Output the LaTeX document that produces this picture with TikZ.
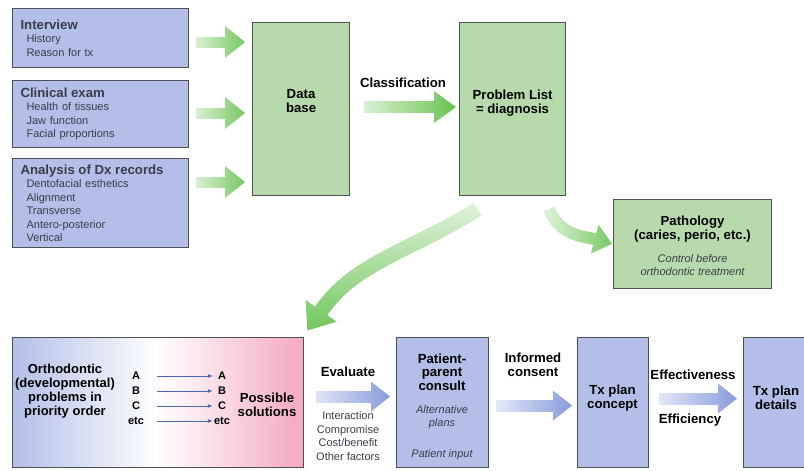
\documentclass[tikz,border=0pt]{standalone}
\usepackage{fontspec}
\setmainfont{Liberation Sans}
\usetikzlibrary{arrows.meta,positioning,fadings,calc}
\definecolor{BoxBlue}{HTML}{B3BFE9}
\definecolor{BoxGreen}{HTML}{B6DAAC}
\definecolor{Edge}{HTML}{505050}
\definecolor{ArrowGreen}{HTML}{5DBE44}
\definecolor{ArrowBlue}{HTML}{7890D6}
\definecolor{Pink}{HTML}{F4A8C2}
\definecolor{ItemText}{HTML}{3C3C48}
\definecolor{LineBlue}{HTML}{4A67AE}
\tikzfading[name=tailfade, left color=transparent!92, right color=transparent!0]
\tikzfading[name=tailfadedown, top color=transparent!92, bottom color=transparent!0]
\newcommand{\headfont}{\fontsize{13.2}{13.5}\selectfont\bfseries}
\newcommand{\itemfont}{\fontsize{11}{13.5}\selectfont}

\begin{document}
\begin{tikzpicture}[x=1pt,y=1pt,
  bluebox/.style={draw=Edge,fill=BoxBlue,line width=1.1pt,anchor=north west,inner sep=0pt},
  listbox/.style={bluebox,align=left,inner xsep=8pt,font=\itemfont,text=ItemText},
  greenbox/.style={draw=Edge,fill=BoxGreen,line width=1.1pt,anchor=north west,inner sep=0pt},
  bigtext/.style={font=\headfont,align=center},
  smalltext/.style={font=\itemfont,align=center,text=ItemText},
  lettertext/.style={font=\fontsize{11}{13}\selectfont\bfseries,inner sep=0pt},
  greenarrow/.style={draw=ArrowGreen,line width=11pt,-{Triangle[length=20pt,width=32pt,line width=0pt]},path fading=tailfade,fading transform={yscale=5}},
  bluearrow/.style={draw=ArrowBlue,line width=12pt,-{Triangle[length=19pt,width=30pt,line width=0pt]},path fading=tailfade,fading transform={yscale=5}},
  thinarrow/.style={draw=LineBlue,line width=0.9pt,-{Latex[length=5pt,width=4pt]}}
]
\useasboundingbox (0,0) rectangle (804,-471);
% records feeding the data base
\node[listbox,text width=160pt,minimum height=59pt] (iv) at (12,-8)
  {{\headfont Interview}\\\hspace*{6pt}History\\\hspace*{6pt}Reason for tx};
\node[listbox,text width=160pt,minimum height=67pt] (ce) at (12,-80)
  {{\headfont Clinical exam}\\\hspace*{6pt}Health of tissues\\\hspace*{6pt}Jaw function\\\hspace*{6pt}Facial proportions};
\node[listbox,text width=160pt,minimum height=89pt] (an) at (12,-158)
  {{\headfont Analysis of Dx records}\\\hspace*{6pt}Dentofacial esthetics\\\hspace*{6pt}Alignment\\\hspace*{6pt}Transverse\\\hspace*{6pt}Antero-posterior\\\hspace*{6pt}Vertical};
\node[greenbox,minimum width=97pt,minimum height=173pt] (db) at (252,-22) {};
\node[bigtext] (dbtext) at ([yshift=8pt]db.center) {Data\\base};
\node[greenbox,minimum width=106pt,minimum height=173pt] (pl) at (459,-22) {};
\node[bigtext] (pltext) at ([yshift=6pt]pl.center) {Problem List\\= diagnosis};
\node[greenbox,minimum width=158pt,minimum height=89pt] (pa) at (613,-199) {};
\node[bigtext] (patext) at ([yshift=15pt]pa.center) {Pathology\\(caries, perio, etc.)};
\node[smalltext,font=\itemfont\itshape] (panote) at ([yshift=-21pt]pa.center) {Control before\\orthodontic treatment};
\node[bigtext] (classlbl) at (403,-83) {Classification};

\draw[greenarrow,shorten <=7pt,shorten >=7pt] ([yshift=-4pt]iv.east) -- ([yshift=-4pt]iv.east -| db.west);
\draw[greenarrow,shorten <=7pt,shorten >=7pt] ([yshift=1pt]ce.east) -- ([yshift=1pt]ce.east -| db.west);
\draw[greenarrow,shorten <=7pt,shorten >=7pt] ([yshift=21pt]an.east) -- ([yshift=21pt]an.east -| db.west);
\draw[greenarrow,line width=12pt,-{Triangle[length=22pt,width=32pt,line width=0pt]},shorten <=14pt,shorten >=3pt] ([yshift=2pt]db.east) -- ([yshift=2pt]pl.west);
\draw[greenarrow,line width=12pt,-{Triangle[length=18pt,width=30pt,line width=0pt]},fading transform={scale=1.3},shorten >=1pt] ([xshift=-17pt,yshift=-13pt]pl.south east) to[out=-70,in=165] (pa.west);

% treatment planning row
\node[bluebox,draw=Edge,left color=BoxBlue,right color=Pink,middle color=white,minimum width=291pt,minimum height=130pt] (or) at (12,-337) {};
\node[bigtext,font=\fontsize{13}{14}\selectfont\bfseries] (ortext) at (65,-391) {Orthodontic\\(developmental)\\problems in\\priority order};
\node[lettertext,minimum width=22pt] (pra) at (136,-376) {A};
\node[lettertext,minimum width=22pt] (prb) at (136,-391) {B};
\node[lettertext,minimum width=22pt] (prc) at (136,-406) {C};
\node[lettertext,minimum width=22pt] (pre) at (136,-421) {etc};
\node[lettertext,minimum width=18pt] (sla) at (222,-376) {A};
\node[lettertext,minimum width=18pt] (slb) at (222,-391) {B};
\node[lettertext,minimum width=18pt] (slc) at (222,-406) {C};
\node[lettertext,minimum width=18pt] (sle) at (222,-421) {etc};
\draw[thinarrow,shorten <=10pt] (pra) -- (sla);
\draw[thinarrow,shorten <=10pt] (prb) -- (slb);
\draw[thinarrow,shorten <=10pt] (prc) -- (slc);
\draw[thinarrow,shorten <=10pt] (pre) -- (sle);
\node[bigtext] (soltext) at (267,-405) {Possible\\solutions};

\node[bluebox,minimum width=92pt,minimum height=130pt] (pp) at (396,-337) {};
\node[bigtext] (pptext) at (442,-372) {Patient-\\parent\\consult};
\node[smalltext,font=\itemfont\itshape] (ppalt) at (442,-417) {Alternative\\plans};
\node[smalltext,font=\itemfont\itshape] (ppin) at (442,-455) {Patient input};
\node[bluebox,minimum width=71pt,minimum height=130pt] (tc) at (577,-337) {};
\node[bigtext] (tctext) at (612.5,-398) {Tx plan\\concept};
\node[bluebox,minimum width=66pt,minimum height=130pt] (td) at (743,-337) {};
\node[bigtext] (tdtext) at (776,-398) {Tx plan\\details};

\node[bigtext] (evlbl) at (348,-372) {Evaluate};
\node[smalltext] (evnote) at (348,-436) {Interaction\\Compromise\\Cost/benefit\\Other factors};
\node[bigtext] (iclbl) at (533,-365) {Informed\\consent};
\node[bigtext] (eflbl) at (693,-375) {Effectiveness};
\node[bigtext] (eclbl) at (690,-420) {Efficiency};

\draw[bluearrow,shorten <=12pt,shorten >=6pt] ([yshift=6pt]or.east) -- ([yshift=6pt]pp.west);
\draw[bluearrow,shorten <=7pt,shorten >=5pt] ([yshift=-3pt]pp.east) -- ([yshift=-3pt]tc.west);
\draw[bluearrow,shorten <=10pt,shorten >=6pt] ([yshift=4pt]tc.east) -- ([yshift=4pt]td.west);

\draw[greenarrow,line width=15pt,-{Triangle[length=24pt,width=38pt,line width=0pt]},path fading=tailfadedown,fading transform={scale=1.3},shorten >=-3pt] ([xshift=-35pt,yshift=-13pt]pl.south) to[out=212,in=55] ([xshift=5pt,yshift=9pt]or.north east);
\end{tikzpicture}
\end{document}
